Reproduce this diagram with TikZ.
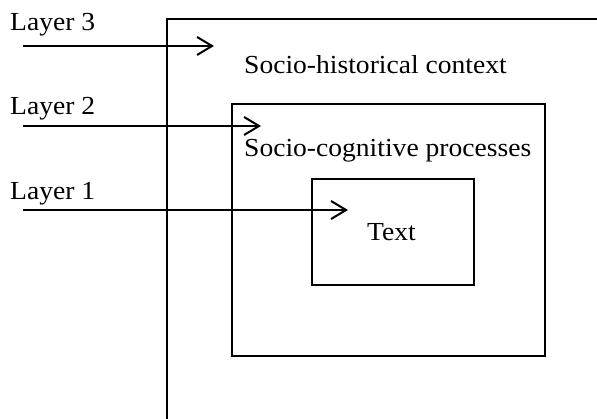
\documentclass[tikz,border=0pt]{standalone}
\usepackage{fontspec}
\setmainfont{Liberation Serif}
\usetikzlibrary{arrows.meta}
\newcommand{\widetxt}[1]{\scalebox{1.06}[1]{#1}}
\begin{document}
\begin{tikzpicture}[x=1pt,y=-1pt,
  frame/.style={line width=2pt},
  lbl/.style={anchor=base west,inner sep=0pt,font=\fontsize{26}{30}\selectfont},
  boxnode/.style={draw,line width=2pt,inner sep=0pt,anchor=north west},
  layerarrow/.style={line width=2pt,-{Straight Barb[length=15pt,width=18pt,line width=2pt]}}]
\useasboundingbox (0,0) rectangle (597,419);
% outer frame (layer 3)
\coordinate (ftr) at (597,19);
\coordinate (ftl) at (167,19);
\coordinate (fbl) at (167,419);
\draw[frame] (ftr) -- (ftl) -- (fbl);
% boxes
\node[boxnode,minimum width=313pt,minimum height=252pt] (mid) at (231,103) {};
\node[boxnode,minimum width=162pt,minimum height=106pt] (inner) at (311,178) {};
% labels
\node[lbl] (l3) at (10,31) {\widetxt{Layer 3}};
\node[lbl] (l2) at (10,115) {\widetxt{Layer 2}};
\node[lbl] (l1) at (10,200) {\widetxt{Layer 1}};
\node[lbl] (ctx) at (244,74) {\widetxt{Socio-historical context}};
\node[lbl] (cog) at (244,157) {\widetxt{Socio-cognitive processes}};
\node[lbl] (txt) at (367,241) {\widetxt{Text}};
% arrows
\coordinate (a3s) at (23,46);  \coordinate (a3e) at (214,46);
\coordinate (a2s) at (23,126); \coordinate (a2e) at (261,126);
\coordinate (a1s) at (23,210); \coordinate (a1e) at (348,210);
\draw[layerarrow] (a3s) -- (a3e);
\draw[layerarrow] (a2s) -- (a2e);
\draw[layerarrow] (a1s) -- (a1e);
\end{tikzpicture}
\end{document}
